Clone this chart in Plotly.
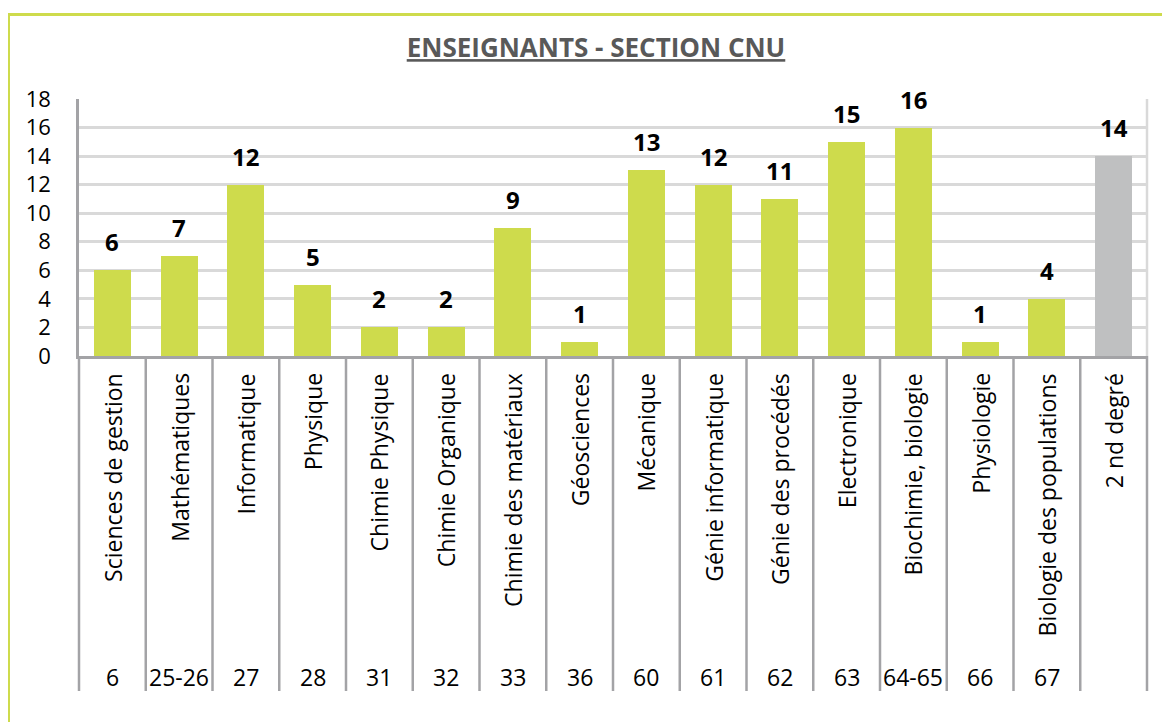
import plotly.graph_objects as go

categories = ["Sciences de gestion", "Mathématiques", "Informatique", "Physique",
              "Chimie Physique", "Chimie Organique", "Chimie des matériaux", "Géosciences",
              "Mécanique", "Génie informatique", "Génie des procédés", "Electronique",
              "Biochimie, biologie", "Physiologie", "Biologie des populations", "2 nd degré"]
sections = ["6", "25-26", "27", "28", "31", "32", "33", "36", "60", "61", "62", "63",
            "64-65", "66", "67", ""]
values = [6, 7, 12, 5, 2, 2, 9, 1, 13, 12, 11, 15, 16, 1, 4, 14]

GREEN = "#CEDB4C"
GREY_BAR = "#BFC0C1"
bar_colors = [GREEN] * (len(values) - 1) + [GREY_BAR]

FONT = "Open Sans"
n = len(categories)
xpos = list(range(n))

# page body has an 8px margin, so the figure is drawn 8px in from the window edge
W, H = 1162, 714
ML, MR, MT, MB = 71, 23, 91, 366
PW = W - ML - MR
PH = H - MT - MB
BOTTOM = H - MB  # pixel y of the value axis zero line (figure coords)

fig = go.Figure()
fig.add_trace(go.Bar(
    x=xpos, y=values, width=0.555,
    marker=dict(color=bar_colors, line=dict(width=0)),
    hoverinfo="skip",
))

annotations = []
# data labels
for i, v in enumerate(values):
    annotations.append(dict(
        x=i, y=v, xref="x", yref="y", text=f"<b>{v}</b>", showarrow=False,
        xanchor="center", yanchor="bottom", yshift=10,
        font=dict(family=FONT, size=24, color="#000000")))
# category labels (rotated)
for i, c in enumerate(categories):
    annotations.append(dict(
        x=i, y=0, xref="x", yref="paper", text=c, showarrow=False, textangle=-90,
        xanchor="center", yanchor="top", yshift=-15,
        font=dict(family=FONT, size=23, color="#000000")))
# section numbers
for i, s in enumerate(sections):
    annotations.append(dict(
        x=i, y=0, xref="x", yref="paper", text=s, showarrow=False,
        xanchor="center", yanchor="middle", yshift=-321,
        font=dict(family=FONT, size=23, color="#000000")))

shapes = []
sep_bottom = -335 / PH
for i in range(n + 1):
    shapes.append(dict(type="line", xref="paper", yref="paper",
                       x0=i / n, x1=i / n, y0=0, y1=sep_bottom,
                       line=dict(color="#A3A3A6", width=2.5)))
# right border of plot area
shapes.append(dict(type="line", xref="paper", yref="paper", x0=1, x1=1, y0=0, y1=1,
                   line=dict(color="#D9D9D9", width=2.5)))
# outer green frame (left and top visible)
shapes.append(dict(type="rect", xref="paper", yref="paper",
                   x0=(0.5 - ML) / PW, x1=(W + 20 - ML) / PW,
                   y0=(BOTTOM - (H + 20)) / PH, y1=(BOTTOM - 6.5) / PH,
                   line=dict(color=GREEN, width=3), fillcolor="rgba(0,0,0,0)"))

fig.update_layout(
    width=W, height=H,
    margin=dict(l=ML, r=MR, t=MT, b=MB, pad=0),
    paper_bgcolor="white", plot_bgcolor="white",
    showlegend=False,
    bargap=0,
    title=dict(text="<u><b>ENSEIGNANTS - SECTION CNU</b></u>",
               xref="container", x=588 / W, xanchor="center",
               yref="container", y=1 - 40 / H, yanchor="middle",
               font=dict(family=FONT, size=26, color="#595959")),
    xaxis=dict(range=[-0.5, n - 0.5], showticklabels=False, showgrid=False,
               zeroline=False, showline=True, linecolor="#A3A3A6", linewidth=2.5,
               ticks="", fixedrange=True),
    yaxis=dict(range=[0, 18], dtick=2, tick0=0, showgrid=True, gridcolor="#D9D9D9",
               gridwidth=2.5, zeroline=False, showline=True, linecolor="#A3A3A6",
               linewidth=2.5, ticks="", ticklabelstandoff=21,
               tickfont=dict(family=FONT, size=22, color="#000000"), fixedrange=True),
    annotations=annotations,
    shapes=shapes,
)

fig.write_html("out.html")
